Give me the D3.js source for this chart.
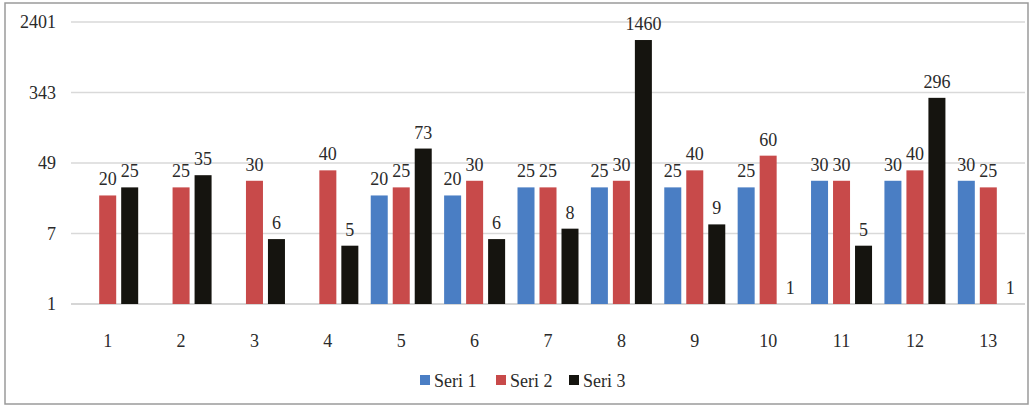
<!DOCTYPE html>
<html><head><meta charset="utf-8">
<script src="https://cdn.jsdelivr.net/npm/d3@7"></script>
<style>body{margin:0;background:#fff}svg{display:block}</style>
</head><body>
<svg id="c" width="1031" height="407"></svg>
<script>
const categories = ["1","2","3","4","5","6","7","8","9","10","11","12","13"];
const seriesNames = ["Seri 1","Seri 2","Seri 3"];
const seri1 = [null,null,null,null,20,20,25,25,25,25,30,30,30];
const seri2 = [20,25,30,40,25,30,25,30,40,60,30,40,25];
const seri3 = [25,35,6,5,73,6,8,1460,9,1,5,296,1];
const yTicks = [1,7,49,343,2401];
const colors = ["#4a7ec4","#c84a4a","#15140f"];

const svg = d3.select("#c");
const font = "'Liberation Serif','Times New Roman',serif";
const textColor = "#2a2a2a";

svg.append("rect").attr("x",5).attr("y",3).attr("width",1023).attr("height",401)
  .attr("fill","#fff").attr("stroke","#9a9a9a").attr("stroke-width",1.5);

const x0 = d3.scaleBand().domain(categories).range([71,1025]).padding(0);
const x1 = d3.scaleBand().domain(seriesNames).range([-30.5,30.5]).paddingInner(0.227).paddingOuter(0);
const y = d3.scaleLog().base(7).domain([1,2401]).range([304,22]);

// gridlines
svg.append("g").selectAll("line").data(yTicks).join("line")
  .attr("x1",71).attr("x2",1025)
  .attr("y1",d=>y(d)).attr("y2",d=>y(d))
  .attr("stroke",d=>d===1?"#c8c8c8":"#d9d9d9").attr("stroke-width",1.3);

// y axis labels
const yAxis = d3.axisLeft(y).tickValues(yTicks).tickFormat(d3.format("d")).tickSize(0).tickPadding(0);
const ya = svg.append("g").attr("transform","translate(56,0)").call(yAxis);
ya.select(".domain").remove();
ya.selectAll("text").attr("font-family",font).attr("font-size",18).attr("fill",textColor);

// x axis labels
const xAxis = d3.axisBottom(x0).tickSize(0).tickPadding(0);
const xa = svg.append("g").attr("transform","translate(0,334)").call(xAxis);
xa.select(".domain").remove();
xa.selectAll("text").attr("font-family",font).attr("font-size",18).attr("fill",textColor).attr("dy","0.71em");

const seriesData = [seri1,seri2,seri3];
const bars = [];
categories.forEach((c,i)=>{
  seriesData.forEach((s,j)=>{
    if (s[i] !== null) bars.push({c, s:seriesNames[j], j, v:s[i]});
  });
});

const g = svg.append("g");
g.selectAll("rect").data(bars).join("rect")
  .attr("x",d=>x0(d.c)+x0.bandwidth()/2+x1(d.s))
  .attr("width",x1.bandwidth())
  .attr("y",d=>y(d.v))
  .attr("height",d=>y(1)-y(d.v))
  .attr("fill",d=>colors[d.j]);

g.selectAll("text").data(bars).join("text")
  .attr("x",d=>x0(d.c)+x0.bandwidth()/2+x1(d.s)+x1.bandwidth()/2)
  .attr("y",d=>y(d.v)-10)
  .attr("text-anchor","middle")
  .attr("font-family",font).attr("font-size",18).attr("fill",textColor)
  .text(d=>d.v);

// legend
const legendX = [420,496,569];
const lg = svg.append("g");
seriesNames.forEach((n,j)=>{
  lg.append("rect").attr("x",legendX[j]).attr("y",375).attr("width",10).attr("height",10).attr("fill",colors[j]);
  lg.append("text").attr("x",legendX[j]+14).attr("y",386.5)
    .attr("font-family",font).attr("font-size",18).attr("fill",textColor).text(n);
});
</script>
</body></html>
